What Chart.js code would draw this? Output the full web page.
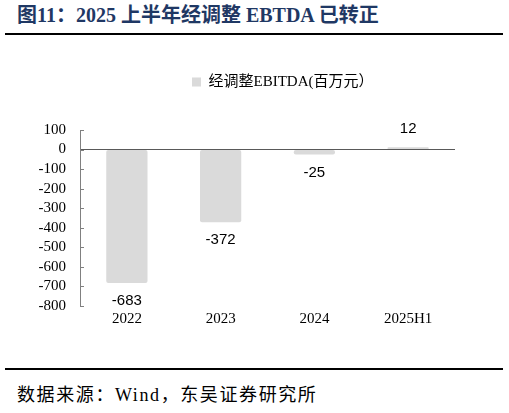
<!DOCTYPE html>
<html>
<head>
<meta charset="utf-8">
<script src="https://cdn.jsdelivr.net/npm/chart.js@4.4.0/dist/chart.umd.min.js"></script>
<style>
html, body { margin: 0; padding: 0; background: #fff; }
body { width: 509px; height: 413px; position: relative; overflow: hidden;
       font-family: 'Liberation Serif', 'Noto Sans CJK SC', serif; }
#title { position: absolute; left: 17px; top: 5px; font-size: 20px; line-height: 1; font-weight: bold;
         color: #1f3864; white-space: nowrap; }
.rule { position: absolute; left: 5px; width: 498px; height: 2px; background: #000; }
#src { position: absolute; left: 17px; top: 386px; font-size: 18px; line-height: 1; letter-spacing: 1.6px;
       color: #000; white-space: nowrap; }
#wrap { position: absolute; left: 0; top: 40px; width: 509px; height: 300px; }
</style>
</head>
<body>
<div id="title">图11：2025 上半年经调整 EBTDA 已转正</div>
<div class="rule" style="top:33px"></div>
<div id="wrap"><canvas id="myChart"></canvas></div>
<div class="rule" style="top:368px"></div>
<div id="src">数据来源：Wind，东吴证券研究所</div>

<script>
// data
var categories = ['2022', '2023', '2024', '2025H1'];
var ebitda = [-683, -372, -25, 12];
var seriesName = '经调整EBITDA(百万元）';
var yMin = -800;
var yMax = 100;
var yStep = 100;

var serif = "'Liberation Serif', 'Noto Sans CJK SC', serif";
var sans = "'Liberation Sans', Arial, sans-serif";

// value labels at the end of each bar
var valueLabels = {
    id: 'valueLabels',
    afterDatasetsDraw: function (chart) {
        var ctx = chart.ctx;
        var meta = chart.getDatasetMeta(0);
        ctx.save();
        ctx.font = '15px ' + sans;
        ctx.fillStyle = '#000';
        ctx.textAlign = 'center';
        ctx.textBaseline = 'middle';
        meta.data.forEach(function (bar, i) {
            var v = ebitda[i];
            var y = v < 0 ? bar.y + 18 : bar.y - 18;
            ctx.fillText(String(v), bar.x, y);
        });
        ctx.restore();
    }
};

// legend placement, and small tick marks pointing into the plot
var axisTweaks = {
    id: 'axisTweaks',
    afterLayout: function (chart) {
        var lg = chart.legend;
        var pad = 10;
        var curX = (lg.left + pad + lg.right - lg.lineWidths[0]) / 2;
        var dx = 192 - curX;
        var dy = 42 - (lg.top + pad + 7.5);
        lg.left += dx; lg.right += dx;
        lg.top += dy; lg.bottom += dy;
    },
    afterDraw: function (chart) {
        var ctx = chart.ctx;
        var y = chart.scales.y;
        ctx.save();
        ctx.strokeStyle = '#808080';
        ctx.lineWidth = 1;
        y.ticks.forEach(function (t) {
            var py = Math.round(y.getPixelForValue(t.value)) + 0.5;
            ctx.beginPath();
            ctx.moveTo(y.right, py);
            ctx.lineTo(y.right + 4, py);
            ctx.stroke();
        });
        ctx.restore();
    }
};

var canvas = document.getElementById('myChart');
var myChart = new Chart(canvas.getContext('2d'), {
    type: 'bar',
    data: {
        labels: categories,
        datasets: [{
            label: seriesName,
            data: ebitda,
            backgroundColor: '#dadada',
            borderRadius: 2,
            borderSkipped: false,
            categoryPercentage: 1,
            barPercentage: 0.44
        }]
    },
    options: {
        responsive: true,
        maintainAspectRatio: false,
        animation: false,
        layout: { padding: { left: 0, right: 54, top: 55, bottom: 8 } },
        plugins: {
            legend: {
                display: true,
                position: 'top',
                labels: {
                    boxWidth: 9,
                    boxHeight: 9,
                    padding: 10,
                    color: '#000',
                    font: { family: serif, size: 15 }
                }
            },
            tooltip: { enabled: false }
        },
        scales: {
            x: {
                grid: { display: false, drawTicks: false },
                border: { display: false },
                ticks: { color: '#000', padding: 4, font: { family: serif, size: 15 } }
            },
            y: {
                min: yMin,
                max: yMax,
                afterFit: function (s) { s.width = 80; },
                ticks: { stepSize: yStep, autoSkip: false, color: '#000', padding: 14, font: { family: serif, size: 15 } },
                grid: {
                    drawTicks: false,
                    color: function (c) { return c.tick && c.tick.value === 0 ? '#595959' : 'rgba(0,0,0,0)'; }
                },
                border: { display: true, color: '#808080' }
            }
        }
    },
    plugins: [valueLabels, axisTweaks]
});
</script>
</body>
</html>
